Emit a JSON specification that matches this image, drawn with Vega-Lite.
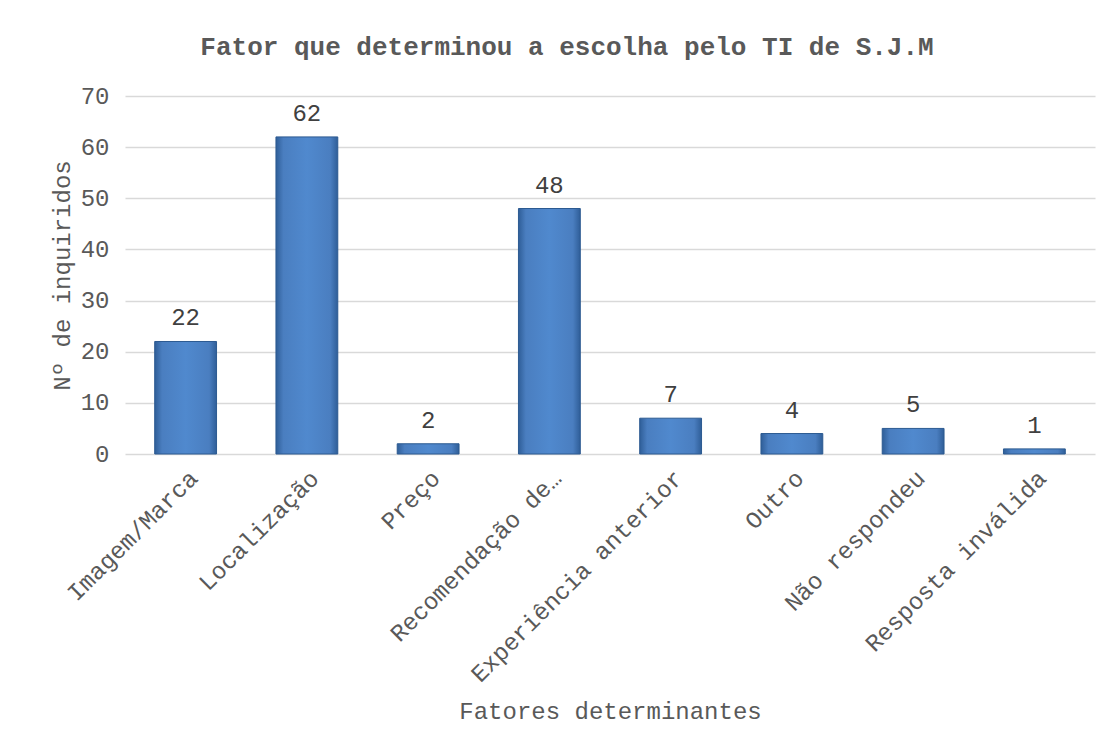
{
  "$schema": "https://vega.github.io/schema/vega-lite/v6.json",
  "width": 970,
  "height": 358,
  "autosize": "none",
  "padding": {"left": 125, "top": 96, "right": 17, "bottom": 294},
  "background": "white",
  "title": {
    "text": "Fator que determinou a escolha pelo TI de S.J.M",
    "font": "Liberation Mono",
    "fontSize": 26,
    "fontWeight": "bold",
    "color": "#595959",
    "anchor": "middle",
    "dx": -43,
    "offset": 24
  },
  "data": {
    "values": [
      {"fator": "Imagem/Marca", "n": 22},
      {"fator": "Localização", "n": 62},
      {"fator": "Preço", "n": 2},
      {"fator": "Recomendação de…", "n": 48},
      {"fator": "Experiência anterior", "n": 7},
      {"fator": "Outro", "n": 4},
      {"fator": "Não respondeu", "n": 5},
      {"fator": "Resposta inválida", "n": 1}
    ]
  },
  "config": {
    "view": {"stroke": null},
    "font": "Liberation Mono"
  },
  "encoding": {
    "x": {
      "field": "fator",
      "type": "nominal",
      "sort": null,
      "scale": {"paddingInner": 0.49, "paddingOuter": 0.245},
      "axis": {
        "title": "Fatores determinantes",
        "titleFont": "Liberation Mono",
        "titleFontSize": 24,
        "titleFontWeight": "normal",
        "titleColor": "#595959",
        "titleY": 257,
        "titleBaseline": "middle",
        "labelAngle": -45,
        "labelAlign": "right",
        "labelBaseline": "top",
        "labelFont": "Liberation Mono",
        "labelFontSize": 24,
        "labelColor": "#595959",
        "labelPadding": 12,
        "labelLimit": 500,
        "ticks": false,
        "domain": false
      }
    },
    "y": {
      "field": "n",
      "type": "quantitative",
      "scale": {"domain": [0, 70]},
      "axis": {
        "title": "Nº de inquiridos",
        "titleFont": "Liberation Mono",
        "titleFontSize": 24,
        "titleFontWeight": "normal",
        "titleColor": "#595959",
        "titleX": -63,
        "titleBaseline": "middle",
        "values": [0, 10, 20, 30, 40, 50, 60, 70],
        "labelFont": "Liberation Mono",
        "labelFontSize": 24,
        "labelColor": "#595959",
        "labelPadding": 16,
        "ticks": false,
        "domain": false,
        "grid": true,
        "gridColor": "#d9d9d9",
        "gridWidth": 1.5
      }
    }
  },
  "layer": [
    {
      "mark": {
        "type": "bar",
        "stroke": "#2c5a91",
        "strokeWidth": 1,
        "color": {
          "gradient": "linear",
          "x1": 0, "x2": 1, "y1": 0, "y2": 0,
          "stops": [
            {"offset": 0, "color": "#2f5e98"},
            {"offset": 0.12, "color": "#4a7ec0"},
            {"offset": 0.5, "color": "#5089ce"},
            {"offset": 0.88, "color": "#4a7ec0"},
            {"offset": 1, "color": "#2f5e98"}
          ]
        }
      }
    },
    {
      "mark": {
        "type": "text",
        "font": "Liberation Mono",
        "fontSize": 24,
        "color": "#404040",
        "baseline": "bottom",
        "dy": -11
      },
      "encoding": {"text": {"field": "n", "type": "quantitative"}}
    }
  ]
}
